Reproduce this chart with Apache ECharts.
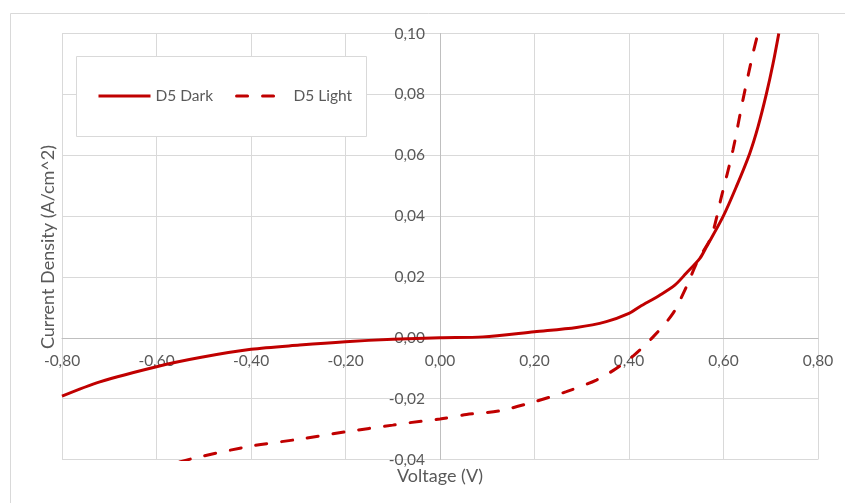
<!DOCTYPE html>
<html>
<head>
<meta charset="utf-8">
<script src="https://cdn.jsdelivr.net/npm/echarts@6/dist/echarts.min.js"></script>
<style>html,body{margin:0;padding:0;background:#fff}#c{width:845px;height:503px}</style>
</head>
<body>
<div id="c"></div>
<script>
var seriesNames = ['D5 Dark', 'D5 Light'];
var darkV = [-0.80, -0.72, -0.60, -0.508, -0.40, -0.297, -0.20, -0.10, 0.00, 0.091, 0.20, 0.289, 0.352, 0.40, 0.4226, 0.465, 0.497, 0.521, 0.55, 0.564, 0.599, 0.627, 0.6555, 0.673, 0.691, 0.705, 0.717];
var darkJ = [-0.0192, -0.0145, -0.0095, -0.0065, -0.0038, -0.0024, -0.0013, -0.0005, 0.0000, 0.0003, 0.0020, 0.0034, 0.0053, 0.0080, 0.0102, 0.0140, 0.0173, 0.0212, 0.0261, 0.0299, 0.0398, 0.0496, 0.0606, 0.0693, 0.0803, 0.0902, 0.1000];
var lightV = [-0.551, -0.508, -0.40, -0.297, -0.20, -0.10, -0.064, 0.00, 0.056, 0.126, 0.20, 0.2675, 0.331, 0.373, 0.4085, 0.451, 0.493, 0.5215, 0.546, 0.574, 0.5955, 0.620, 0.641, 0.6625, 0.672];
var lightJ = [-0.0408, -0.0391, -0.0356, -0.0333, -0.0309, -0.0287, -0.0279, -0.0267, -0.0252, -0.0240, -0.0210, -0.0177, -0.0139, -0.0101, -0.0060, 0.0003, 0.0080, 0.0168, 0.0255, 0.0332, 0.0463, 0.0617, 0.0781, 0.0935, 0.0995];
var xTitle = 'Voltage (V)';
var yTitle = 'Current Density (A/cm^2)';

function zip(a, b) { return a.map(function (v, i) { return [v, b[i]]; }); }
function fmt(v) { return v.toFixed(2).replace('.', ','); }

var FONT = 'Lato';
var TXT = '#595959';
var W = 845, H = 503;
var gL = 62, gR = 27, gT = 33.5, gB = 43.5;
var xMin = -0.8, xMax = 0.8, yMin = -0.04, yMax = 0.10;
var plotW = W - gL - gR, plotH = H - gT - gB;
// move the axes (line + labels) to the zero position of the other axis
var yOffset = -plotW * (0 - xMin) / (xMax - xMin);
var xOffset = -plotH * (0 - yMin) / (yMax - yMin);

var chart = echarts.init(document.getElementById('c'), null, {renderer: 'canvas'});
chart.setOption({
  animation: false,
  backgroundColor: '#fff',
  grid: {left: gL, right: gR, top: gT, bottom: gB, containLabel: false},
  xAxis: {
    type: 'value', min: xMin, max: xMax, interval: 0.2,
    position: 'bottom', offset: xOffset,
    axisLine: {onZero: false, lineStyle: {color: '#bfbfbf', width: 1}},
    axisTick: {show: false},
    axisLabel: {formatter: fmt, color: TXT, fontFamily: FONT, fontSize: 15.5, margin: 15},
    splitLine: {lineStyle: {color: '#d9d9d9', width: 1}}
  },
  yAxis: {
    type: 'value', min: yMin, max: yMax, interval: 0.02,
    position: 'left', offset: yOffset,
    axisLine: {show: true, onZero: false, lineStyle: {color: '#bfbfbf', width: 1}},
    axisTick: {show: false},
    axisLabel: {formatter: fmt, color: TXT, fontFamily: FONT, fontSize: 15.5, margin: 15},
    splitLine: {lineStyle: {color: '#d9d9d9', width: 1}}
  },
  legend: {
    left: 97, top: 88, z: 5, padding: 0,
    itemWidth: 52, itemHeight: 14, itemGap: 22,
    itemStyle: {opacity: 0},
    lineStyle: {width: 3},
    textStyle: {color: TXT, fontFamily: FONT, fontSize: 15.5},
    data: seriesNames
  },
  graphic: [
    {type: 'rect', z: -10, silent: true, shape: {x: 10.5, y: 13.5, width: 860, height: 520}, style: {fill: null, stroke: '#d9d9d9', lineWidth: 1}},
    {type: 'rect', z: 3, silent: true, shape: {x: 76.5, y: 56.5, width: 290, height: 80}, style: {fill: '#fff', stroke: '#d9d9d9', lineWidth: 1}},
    {type: 'text', silent: true, x: 440, y: 476, style: {text: xTitle, fill: TXT, font: '18px ' + FONT, align: 'center', verticalAlign: 'middle'}},
    {type: 'text', silent: true, x: 48, y: 247, rotation: Math.PI / 2, style: {text: yTitle, fill: TXT, font: '18px ' + FONT, align: 'center', verticalAlign: 'middle'}}
  ],
  series: [
    {name: seriesNames[0], type: 'line', data: zip(darkV, darkJ), symbol: 'none', smooth: 0.3, color: '#c00000', lineStyle: {color: '#c00000', width: 3}},
    {name: seriesNames[1], type: 'line', data: zip(lightV, lightJ), symbol: 'none', smooth: 0.3, color: '#c00000', lineStyle: {color: '#c00000', width: 3, type: [11, 15], cap: 'round'}}
  ]
});
</script>
</body>
</html>
